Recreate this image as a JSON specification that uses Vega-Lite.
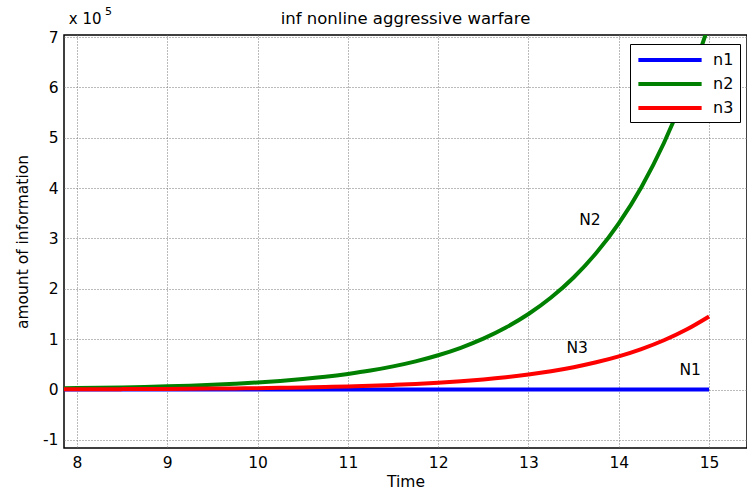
{
  "$schema": "https://vega.github.io/schema/vega-lite/v6.json",
  "width": 683,
  "height": 413,
  "autosize": "none",
  "padding": {"left": 64, "top": 35, "right": 0, "bottom": 45},
  "background": "white",
  "title": {"text": "inf nonline aggressive warfare", "font": "DejaVu Sans", "fontSize": 16.5, "fontWeight": "normal", "color": "black", "offset": -22},
  "config": {
    "view": {"stroke": "black", "strokeWidth": 1.5},
    "axis": {
      "labelFont": "DejaVu Sans", "labelFontSize": 15.5, "labelColor": "black",
      "titleFont": "DejaVu Sans", "titleFontSize": 15.5, "titleFontWeight": "normal", "titleColor": "black",
      "grid": true, "gridColor": "#777", "gridDash": [1, 2], "gridWidth": 1,
      "domain": false, "ticks": false
    }
  },
  "datasets": {
    "curves": [
      {"time": 7.85, "value": 0, "series": "n1"},
      {"time": 9, "value": 0, "series": "n1"},
      {"time": 10, "value": 0, "series": "n1"},
      {"time": 11, "value": 0, "series": "n1"},
      {"time": 12, "value": 0, "series": "n1"},
      {"time": 13, "value": 0, "series": "n1"},
      {"time": 14, "value": 0, "series": "n1"},
      {"time": 15, "value": 0, "series": "n1"},
      {"time": 7.85, "value": 0.025, "series": "n2"},
      {"time": 8, "value": 0.029, "series": "n2"},
      {"time": 8.25, "value": 0.035, "series": "n2"},
      {"time": 8.5, "value": 0.043, "series": "n2"},
      {"time": 8.75, "value": 0.053, "series": "n2"},
      {"time": 9, "value": 0.064, "series": "n2"},
      {"time": 9.25, "value": 0.078, "series": "n2"},
      {"time": 9.5, "value": 0.095, "series": "n2"},
      {"time": 9.75, "value": 0.116, "series": "n2"},
      {"time": 10, "value": 0.141, "series": "n2"},
      {"time": 10.25, "value": 0.172, "series": "n2"},
      {"time": 10.5, "value": 0.209, "series": "n2"},
      {"time": 10.75, "value": 0.254, "series": "n2"},
      {"time": 11, "value": 0.31, "series": "n2"},
      {"time": 11.25, "value": 0.377, "series": "n2"},
      {"time": 11.5, "value": 0.46, "series": "n2"},
      {"time": 11.75, "value": 0.56, "series": "n2"},
      {"time": 12, "value": 0.682, "series": "n2"},
      {"time": 12.25, "value": 0.83, "series": "n2"},
      {"time": 12.5, "value": 1.011, "series": "n2"},
      {"time": 12.75, "value": 1.232, "series": "n2"},
      {"time": 13, "value": 1.5, "series": "n2"},
      {"time": 13.25, "value": 1.827, "series": "n2"},
      {"time": 13.5, "value": 2.225, "series": "n2"},
      {"time": 13.75, "value": 2.71, "series": "n2"},
      {"time": 14, "value": 3.3, "series": "n2"},
      {"time": 14.25, "value": 4.019, "series": "n2"},
      {"time": 14.5, "value": 4.895, "series": "n2"},
      {"time": 14.75, "value": 5.96, "series": "n2"},
      {"time": 15, "value": 7.26, "series": "n2"},
      {"time": 7.85, "value": 0.005, "series": "n3"},
      {"time": 8, "value": 0.006, "series": "n3"},
      {"time": 8.25, "value": 0.007, "series": "n3"},
      {"time": 8.5, "value": 0.009, "series": "n3"},
      {"time": 8.75, "value": 0.011, "series": "n3"},
      {"time": 9, "value": 0.013, "series": "n3"},
      {"time": 9.25, "value": 0.016, "series": "n3"},
      {"time": 9.5, "value": 0.019, "series": "n3"},
      {"time": 9.75, "value": 0.023, "series": "n3"},
      {"time": 10, "value": 0.028, "series": "n3"},
      {"time": 10.25, "value": 0.034, "series": "n3"},
      {"time": 10.5, "value": 0.042, "series": "n3"},
      {"time": 10.75, "value": 0.051, "series": "n3"},
      {"time": 11, "value": 0.062, "series": "n3"},
      {"time": 11.25, "value": 0.075, "series": "n3"},
      {"time": 11.5, "value": 0.092, "series": "n3"},
      {"time": 11.75, "value": 0.112, "series": "n3"},
      {"time": 12, "value": 0.136, "series": "n3"},
      {"time": 12.25, "value": 0.166, "series": "n3"},
      {"time": 12.5, "value": 0.202, "series": "n3"},
      {"time": 12.75, "value": 0.246, "series": "n3"},
      {"time": 13, "value": 0.3, "series": "n3"},
      {"time": 13.25, "value": 0.365, "series": "n3"},
      {"time": 13.5, "value": 0.445, "series": "n3"},
      {"time": 13.75, "value": 0.542, "series": "n3"},
      {"time": 14, "value": 0.66, "series": "n3"},
      {"time": 14.25, "value": 0.804, "series": "n3"},
      {"time": 14.5, "value": 0.979, "series": "n3"},
      {"time": 14.75, "value": 1.192, "series": "n3"},
      {"time": 15, "value": 1.452, "series": "n3"}
    ],
    "labels": [
      {"time": 13.68, "value": 3.37, "label": "N2"},
      {"time": 13.54, "value": 0.83, "label": "N3"},
      {"time": 14.79, "value": 0.38, "label": "N1"}
    ],
    "exp": [
      {"time": 8.09, "value": 7.36, "label": "x 10", "size": 15},
      {"time": 8.35, "value": 7.5, "label": "5", "size": 11}
    ]
  },
  "layer": [
    {
      "data": {"name": "curves"},
      "mark": {"type": "line", "strokeWidth": 4, "clip": true, "interpolate": "monotone"},
      "encoding": {
        "x": {"field": "time", "type": "quantitative", "title": "Time",
              "scale": {"domain": [7.856, 15.42], "nice": false, "zero": false},
              "axis": {"values": [8, 9, 10, 11, 12, 13, 14, 15], "format": "d", "titlePadding": 4, "labelPadding": 7}},
        "y": {"field": "value", "type": "quantitative", "title": "amount of information",
              "scale": {"domain": [-1.16, 7.04], "nice": false, "zero": false},
              "axis": {"values": [-1, 0, 1, 2, 3, 4, 5, 6, 7], "format": "d", "labelExpr": "replace(datum.label, '\u2212', '-')", "titlePadding": 12, "labelPadding": 6}},
        "color": {"field": "series", "type": "nominal",
                  "scale": {"domain": ["n1", "n2", "n3"], "range": ["#0000ff", "#008000", "#ff0000"]},
                  "legend": {"title": null, "orient": "none", "legendX": 566, "legendY": 9,
                             "symbolType": "M-4,0H4", "symbolSize": 250, "symbolStrokeWidth": 4,
                             "symbolOffset": 24, "labelOffset": 33,
                             "labelFont": "DejaVu Sans", "labelFontSize": 16, "labelColor": "black",
                             "strokeColor": "black", "fillColor": "white", "padding": 6,
                             "rowPadding": 6}},
        "order": {"field": "series"}
      }
    },
    {
      "data": {"name": "labels"},
      "mark": {"type": "text", "font": "DejaVu Sans", "fontSize": 15.5, "color": "black"},
      "encoding": {
        "x": {"field": "time", "type": "quantitative"},
        "y": {"field": "value", "type": "quantitative"},
        "text": {"field": "label"}
      }
    },
    {
      "data": {"name": "exp"},
      "mark": {"type": "text", "font": "DejaVu Sans", "color": "black", "clip": false},
      "encoding": {
        "x": {"field": "time", "type": "quantitative"},
        "y": {"field": "value", "type": "quantitative"},
        "text": {"field": "label"},
        "size": {"field": "size", "type": "quantitative", "scale": null, "legend": null}
      }
    }
  ]
}
